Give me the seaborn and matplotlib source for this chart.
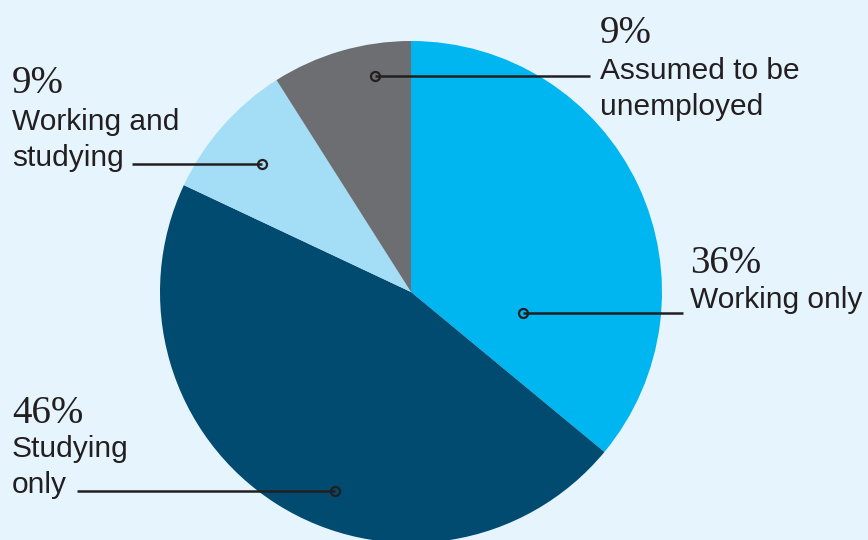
import matplotlib
matplotlib.use("Agg")
import matplotlib.pyplot as plt
import seaborn as sns

# Data
labels = ["Working only", "Studying only", "Working and studying", "Assumed to be unemployed"]
shares = [36, 46, 9, 9]
pct_text = ["36%", "46%", "9%", "9%"]
label_lines = [["Working only"], ["Studying", "only"], ["Working and", "studying"], ["Assumed to be", "unemployed"]]
colors = ["#00B6F0", "#004B6F", "#A4DDF6", "#6D6E71"]

bg = "#E6F5FD"
ink = "#231F20"

sns.set_theme(style="white")
plt.rcParams["font.family"] = ["Liberation Sans", "DejaVu Sans"]

fig = plt.figure(figsize=(8.68, 5.4), dpi=100, facecolor=bg)
ax = fig.add_axes([0, 0, 1, 1])
ax.set_facecolor(bg)

# pie in pixel coordinates (y axis inverted, so counterclock=True looks clockwise)
ax.pie(shares, colors=colors, startangle=-90, counterclock=True,
       center=(411, 292), radius=251, frame=True,
       wedgeprops=dict(linewidth=0))
ax.set_xlim(0, 868)
ax.set_ylim(540, 0)
ax.set_aspect("equal")
ax.axis("off")

# label placement: (text x, percent baseline, first line baseline)
text_pos = [(690, 273, 308), (12, 423, 457), (12, 93, 130), (600, 43, 79)]
line_gap = 36
# leader lines: (x start, x end, y, marker x)
leaders = [(523, 683, 313, 523), (77, 335, 491, 335), (132, 262, 164, 262), (375, 590, 76, 375)]

for i in range(len(shares)):
    tx, pb, lb = text_pos[i]
    ax.text(tx, pb, pct_text[i], fontsize=28, color=ink, va="baseline", ha="left",
            family=["Liberation Serif", "DejaVu Serif"])
    for j, line in enumerate(label_lines[i]):
        ax.text(tx, lb + j * line_gap, line, fontsize=21.5, color=ink, va="baseline", ha="left")
    x0, x1, y, mx = leaders[i]
    ax.plot([x0, x1], [y, y], color=ink, lw=1.8, solid_capstyle="butt")
    ax.plot([mx], [y], marker="o", ms=6.5, mfc="none", mec=ink, mew=1.6)

fig.savefig("out.png", dpi=100, facecolor=bg)
